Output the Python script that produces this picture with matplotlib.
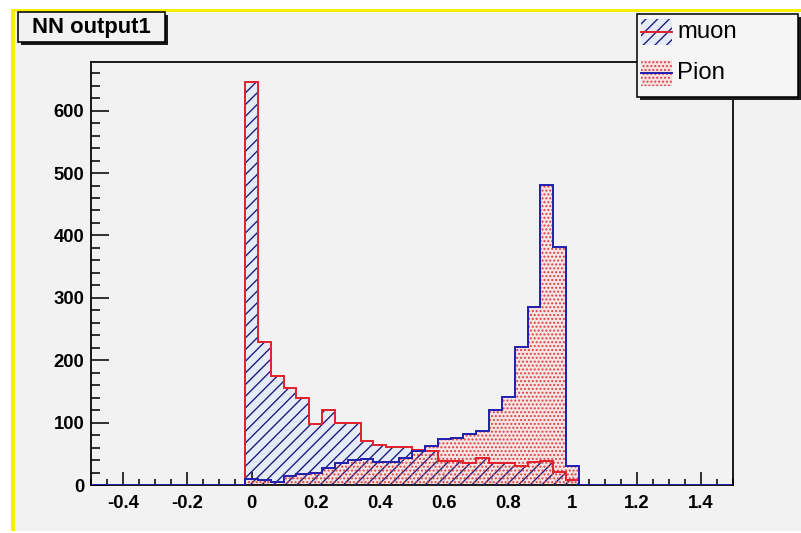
import numpy as np
import matplotlib.pyplot as plt
from matplotlib.patches import Rectangle
from matplotlib.lines import Line2D

plt.rcParams['font.family'] = ['Liberation Sans', 'DejaVu Sans']
plt.rcParams['hatch.linewidth'] = 0.7

# --- histogram data: 50 bins of 0.04 from -0.5 to 1.5 ---
x_lo, x_hi, n_bins = -0.5, 1.5, 50
muon = [0, 0, 0, 0, 0, 0, 0, 0, 0, 0, 0, 0,
        646, 230, 174, 155, 139, 98, 120, 99, 99, 71, 64, 61, 61,
        56, 55, 39, 38, 36, 43, 35, 35, 30, 37, 38, 21, 8,
        0, 0, 0, 0, 0, 0, 0, 0, 0, 0, 0, 0]
pion = [0, 0, 0, 0, 0, 0, 0, 0, 0, 0, 0, 0,
        10, 8, 5, 15, 17, 20, 27, 36, 40, 42, 37, 37, 44,
        55, 62, 74, 76, 82, 86, 120, 141, 221, 286, 481, 381, 30,
        0, 0, 0, 0, 0, 0, 0, 0, 0, 0, 0, 0]

x_ticks = [-0.4, -0.2, 0, 0.2, 0.4, 0.6, 0.8, 1.0, 1.2, 1.4]
x_tick_labels = ['-0.4', '-0.2', '0', '0.2', '0.4', '0.6', '0.8', '1', '1.2', '1.4']
y_ticks = [0, 100, 200, 300, 400, 500, 600]
y_max = 678

title = "NN output1"
labels = ["muon", "Pion"]

edges = np.linspace(x_lo, x_hi, n_bins + 1)

# colours
canvas_col = '#f2f2f2'
red = '#e3202b'
blue = '#1f1fae'
hatch_blue = '#1a1a80'
dot_red = '#d84040'
pion_tint = '#f8e2e2'
muon_tint = '#e6ecf7'

W, H, DPI = 801, 533, 140
fig = plt.figure(figsize=(W / DPI, H / DPI), dpi=DPI)
fig.patch.set_facecolor('white')


def box(x0, y0, x1, y1, **kw):
    # rectangle in pixel coords measured from the top-left corner
    return Rectangle((x0 / W, 1 - y1 / H), (x1 - x0) / W, (y1 - y0) / H,
                     transform=fig.transFigure, **kw)


# canvas background with yellow top/left edge
fig.add_artist(box(11, 9, W, 531, facecolor=canvas_col, edgecolor='none', zorder=-3))
fig.add_artist(box(11, 9, W, 12, facecolor='#f4f000', edgecolor='none', zorder=-2))
fig.add_artist(box(11, 9, 15, 531, facecolor='#f4f000', edgecolor='none', zorder=-2))

ax = fig.add_axes([91 / W, 1 - 485 / H, (733 - 91) / W, (485 - 62) / H])
ax.set_facecolor(canvas_col)

# fills
ax.stairs(muon, edges, fill=True, facecolor=muon_tint, edgecolor='none', zorder=1)
ax.stairs(pion, edges, fill=True, facecolor=pion_tint, edgecolor='none', alpha=0.85, zorder=2)
# patterns
ax.stairs(muon, edges, fill=True, facecolor='none', edgecolor=hatch_blue,
          hatch='////', linewidth=0, zorder=3)
ax.stairs(pion, edges, fill=True, facecolor='none', edgecolor=dot_red,
          hatch='......', linewidth=0, zorder=4)
# outlines
ax.stairs(muon, edges, color=red, linewidth=1.0, zorder=5)
ax.stairs(pion, edges, color=blue, linewidth=1.0, zorder=6)

ax.set_xlim(x_lo, x_hi)
ax.set_ylim(0, y_max)
ax.set_xticks(x_ticks)
ax.set_xticklabels(x_tick_labels)
ax.set_xticks(np.arange(-0.5, 1.5001, 0.05), minor=True)
ax.set_yticks(y_ticks)
ax.set_yticks(np.arange(0, y_max, 20), minor=True)

for s in ax.spines.values():
    s.set_linewidth(0.9)
    s.set_color('black')

ax.tick_params(axis='x', which='major', direction='in', length=6.5, width=0.8,
               pad=5, labelsize=9.5)
ax.tick_params(axis='x', which='minor', direction='in', length=3.2, width=0.8)
ax.tick_params(axis='y', which='major', direction='in', length=9.3, width=0.8,
               pad=3.5, labelsize=9.5)
ax.tick_params(axis='y', which='minor', direction='in', length=4.6, width=0.8)
for lab in ax.get_xticklabels() + ax.get_yticklabels():
    lab.set_fontweight('bold')

# title box with shadow
fig.add_artist(box(21, 15, 168, 45, facecolor='#1a1a1a', edgecolor='none', zorder=4))
fig.add_artist(box(18, 12, 165, 42, facecolor=canvas_col, edgecolor='black',
                   linewidth=0.8, zorder=5))
fig.text(91.5 / W, 1 - 27.5 / H, title, ha='center', va='center',
         fontsize=11.3, fontweight='bold', zorder=6)

# legend box with shadow
fig.add_artist(box(640, 17, 801, 100, facecolor='#1a1a1a', edgecolor='none', zorder=4))
fig.add_artist(box(637, 14, 798, 97, facecolor='#f5f5f5', edgecolor='black',
                   linewidth=0.8, zorder=5))
# muon entry
fig.add_artist(box(641, 19, 672, 45, facecolor=muon_tint, edgecolor=hatch_blue,
                   hatch='////', linewidth=0, zorder=6))
fig.add_artist(Line2D([641 / W, 672 / W], [1 - 32 / H, 1 - 32 / H], color=red,
                      linewidth=1.0, transform=fig.transFigure, zorder=7))
# pion entry
fig.add_artist(box(641, 60, 672, 86, facecolor=pion_tint, edgecolor=dot_red,
                   hatch='......', linewidth=0, zorder=6))
fig.add_artist(Line2D([641 / W, 672 / W], [1 - 73 / H, 1 - 73 / H], color=blue,
                      linewidth=1.0, transform=fig.transFigure, zorder=7))
fig.text(677 / W, 1 - 32 / H, labels[0], ha='left', va='center', fontsize=12.3, zorder=8)
fig.text(677 / W, 1 - 73 / H, labels[1], ha='left', va='center', fontsize=12.3, zorder=8)

fig.savefig('out.png', dpi=DPI)
